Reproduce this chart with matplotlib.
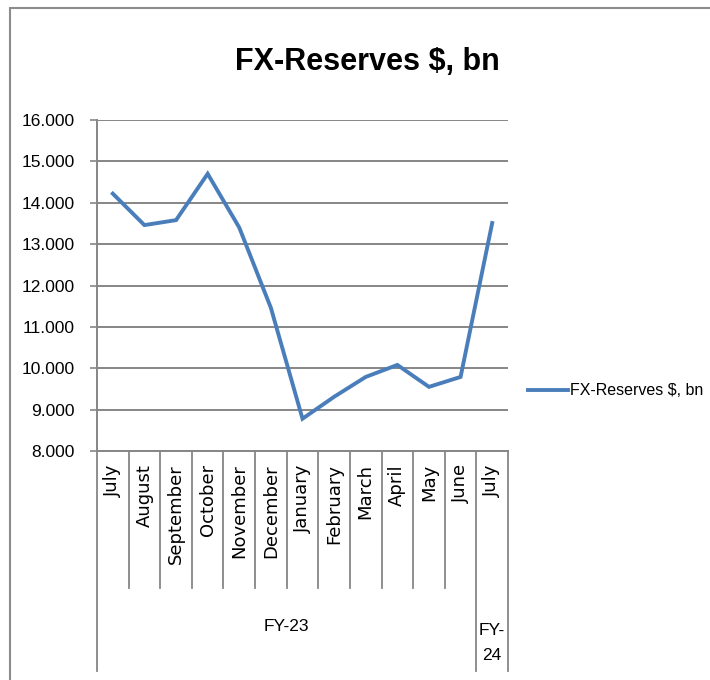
import matplotlib.pyplot as plt
from matplotlib.patches import Rectangle

months = ["July", "August", "September", "October", "November", "December",
          "January", "February", "March", "April", "May", "June", "July"]
reserves = [14.22, 13.46, 13.58, 14.70, 13.40, 11.46, 8.78, 9.31, 9.79,
            10.08, 9.55, 9.79, 13.51]
groups = ["FY-23", "FY-\n24"]
group_span = [(0, 11), (12, 12)]
yticks = [8, 9, 10, 11, 12, 13, 14, 15, 16]

narrow = ['Liberation Sans Narrow', 'Liberation Sans']
grid_c = '#868686'

fig = plt.figure(figsize=(7.1, 6.8), dpi=100)
W, H = 710, 680
ax = fig.add_axes([97 / W, 1 - 451 / H, 411 / W, 331 / H])

# chart frame
fig.patches.append(Rectangle((10 / W, -0.1), 1.2, 1 - 8 / H + 0.1, transform=fig.transFigure,
                             fill=False, edgecolor='#8c8c8c', linewidth=1.5))

x = list(range(len(months)))
line, = ax.plot(x, reserves, color='#4a7ebb', linewidth=2.8, solid_joinstyle='miter',
                label='FX-Reserves $, bn')

ax.set_xlim(-0.5, len(months) - 0.5)
ax.set_ylim(8, 16)
ax.set_yticks(yticks)
ax.set_yticklabels([f"{v}.000" for v in yticks], fontfamily=narrow, fontsize=12.5)
ax.yaxis.grid(True, color=grid_c, linewidth=1.4)
ax.set_axisbelow(True)
ax.tick_params(axis='y', length=5, width=1.2, color=grid_c, pad=11)
ax.tick_params(axis='x', length=0, labelbottom=False)
for s in ['top', 'right']:
    ax.spines[s].set_visible(False)
ax.spines['left'].set_color(grid_c)
ax.spines['bottom'].set_color(grid_c)
ax.spines['left'].set_linewidth(1.4)
ax.spines['bottom'].set_linewidth(1.4)

tr = ax.get_xaxis_transform()
# month labels and separators
for i, m in enumerate(months):
    ax.text(i, -0.04, m, transform=tr, rotation=90, ha='center', va='top',
            fontsize=13, family='DejaVu Sans', color='black')
long_edges = [-0.5] + [b + 0.5 for a, b in group_span]
for k in range(len(months) + 1):
    xe = k - 0.5
    y_end = -0.665 if xe in long_edges else -0.415
    ax.plot([xe, xe], [0, y_end], transform=tr, color=grid_c, linewidth=1.3,
            clip_on=False)
for (a, b), g in zip(group_span, groups):
    yy = -0.53 if '\n' not in g else -0.58
    ax.text((a + b) / 2, yy, g, transform=tr, ha='center', va='center',
            fontsize=12.5, family=narrow, linespacing=1.9)

fig.text(367 / W, 1 - 62 / H, "FX-Reserves $, bn", ha='center', va='center',
         fontsize=22, fontweight='bold', family=narrow)

leg = fig.legend(handles=[line], loc='center left', bbox_to_anchor=(528 / W, 1 - 391 / H),
                 frameon=False, prop={'family': narrow, 'size': 11.5},
                 handlelength=2.5, handletextpad=0.15, borderpad=0, borderaxespad=0)

fig.savefig('out.png', dpi=100)
